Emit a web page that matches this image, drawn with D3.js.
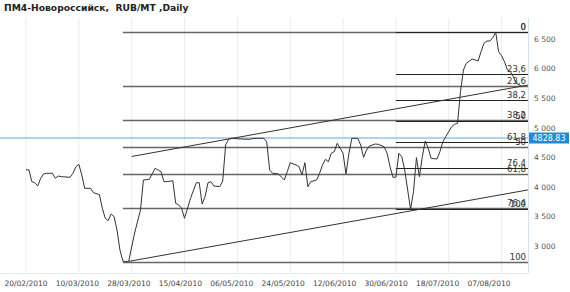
<!DOCTYPE html>
<html>
<head>
<meta charset="utf-8">
<script src="https://cdn.jsdelivr.net/npm/d3@7"></script>
<style>
  body { margin: 0; background: #fff; }
  svg { display: block; font-family: "DejaVu Sans", Verdana, sans-serif; }
</style>
</head>
<body>
<div id="chart"></div>
<script>
// chart data
const title = 'ПМ4-Новороссийск,  RUB/MT ,Daily';
const tickLabels = ['20/02/2010', '10/03/2010', '28/03/2010', '15/04/2010', '06/05/2010',
  '24/05/2010', '12/06/2010', '30/06/2010', '18/07/2010', '07/08/2010'];
const tickStep = 18; // points between date labels
const yTicks = [3000, 3500, 4000, 4500, 5000, 5500, 6000, 6500];

// price trace: day index / value
const priceIdx = [0, 1, 2, 3, 4, 5, 6, 7, 9, 10, 11, 12, 15, 16, 17, 18, 19, 20, 22, 23, 25, 26, 27, 28,
  29, 30, 31, 32, 33, 34, 35, 37, 39, 40, 42, 44, 45, 46, 47, 48, 50, 51, 52, 53, 54, 56, 58, 59,
  60, 61, 62, 63, 64, 66, 67, 68, 69, 70, 73, 76, 78, 81, 82, 83, 84, 86, 88, 89, 90, 92, 93, 94,
  95, 96, 97, 99, 100, 101, 102, 103, 104, 105, 106, 108, 109, 110, 111, 113, 114, 115, 116, 117,
  119, 120, 122, 123, 124, 125, 126, 127, 128, 129, 131, 132, 133, 134, 135, 136, 137, 138, 140,
  141, 142, 143, 144, 145, 146, 147, 148, 149, 150, 152, 153, 154, 155, 156, 157, 158, 159, 160,
  161, 162, 163, 164, 165, 166, 167, 168, 169];
const priceVal = [4290, 4290, 4090, 4072, 4016, 4147, 4220, 4231, 4231, 4147, 4186, 4174, 4164, 4231,
  4343, 4384, 4203, 3977, 3977, 3903, 3870, 3639, 3470, 3429, 3542, 3497, 3271, 2933, 2745, 2735,
  2745, 3221, 3610, 4118, 4130, 4316, 4287, 4258, 4089, 4089, 4106, 3723, 3695, 3639, 3470, 3800,
  4072, 4072, 3712, 3835, 4072, 4089, 4016, 4005, 4100, 4710, 4807, 4824, 4812, 4807, 4824, 4824,
  4766, 4287, 4231, 4220, 4118, 4258, 4411, 4372, 4343, 4203, 4411, 4005, 4089, 4118, 4231, 4372,
  4468, 4428, 4570, 4597, 4739, 4570, 4220, 4570, 4824, 4824, 4710, 4502, 4626, 4694, 4727, 4722,
  4682, 4570, 4343, 4164, 4164, 4570, 4512, 4287, 3620, 3920, 4496, 4174, 4512, 4778, 4655, 4485,
  4473, 4597, 4766, 4851, 4936, 5020, 5061, 5078, 5613, 5980, 6094, 6166, 6150, 6133, 6290, 6432,
  6471, 6471, 6527, 6618, 6290, 6222, 6121, 5980, 5951, 5867, 5755, 5726, 5698];
const lastPrice = 4828.83;

// Fibonacci retracements: two sets, drawn from start index to the right edge
const fibLevels = [0, 23.6, 38.2, 50, 61.8, 76.4, 100];
const fibStart = [33, 126];
const fibHigh = [6618, 6618];
const fibLow = [2735, 3620];

// parallel trend channel
const channelIdx = [[36, 171], [35, 171]];
const channelVal = [[4516, 5726], [2740, 3950]];

const width = 570, height = 292;
const plot = { left: 0, right: 528, top: 18, bottom: 273 };

const svg = d3.select('#chart').append('svg')
  .attr('width', width)
  .attr('height', height);

const x = d3.scaleLinear().domain([0, 171]).range([26, plot.right]);
// date labels drift slightly left of their grid lines in the original
const xLabel = d3.scaleLinear().domain([0, 162]).range([26, 489]);
const y = d3.scaleLinear().domain([2543, 6827]).range([plot.bottom, 20]);

const fmt = d3.formatLocale({ decimal: ',', thousands: ' ', grouping: [3], currency: ['', ''] }).format(',');

// vertical grid
const gridIdx = tickLabels.map((d, i) => i * tickStep);
svg.append('g').selectAll('line')
  .data(gridIdx)
  .join('line')
    .attr('x1', d => x(d)).attr('x2', d => x(d))
    .attr('y1', plot.top).attr('y2', plot.bottom)
    .attr('stroke', '#e6edf2')
    .attr('stroke-width', 1);

// frame right + bottom
svg.append('line')
  .attr('x1', plot.right + 0.5).attr('x2', plot.right + 0.5)
  .attr('y1', plot.top).attr('y2', plot.bottom)
  .attr('stroke', '#d6e2ea');
svg.append('line')
  .attr('x1', 0).attr('x2', plot.right)
  .attr('y1', plot.bottom + 0.5).attr('y2', plot.bottom + 0.5)
  .attr('stroke', '#e6edf2');

// x labels
svg.append('g').selectAll('text')
  .data(tickLabels)
  .join('text')
    .attr('x', (d, i) => xLabel(i * tickStep))
    .attr('y', 286)
    .attr('text-anchor', 'middle')
    .attr('font-size', '7.5px')
    .attr('fill', '#444')
    .text(d => d);

// y labels
svg.append('g').selectAll('text')
  .data(yTicks)
  .join('text')
    .attr('x', 534)
    .attr('y', d => y(d))
    .attr('dy', '0.35em')
    .attr('font-size', '7.5px')
    .attr('fill', '#555')
    .text(d => fmt(d));

// current price line
svg.append('line')
  .attr('x1', 0).attr('x2', plot.right)
  .attr('y1', y(lastPrice)).attr('y2', y(lastPrice))
  .attr('stroke', '#93c6e2')
  .attr('stroke-width', 1.5);

// fib lines
fibStart.forEach((start, s) => {
  const g = svg.append('g');
  const range = fibHigh[s] - fibLow[s];
  const levels = fibLevels.map(l => ({ l, v: fibHigh[s] - range * l / 100 }));
  g.selectAll('line')
    .data(levels)
    .join('line')
      .attr('x1', x(start)).attr('x2', plot.right)
      .attr('y1', d => Math.round(y(d.v)) + 0.5).attr('y2', d => Math.round(y(d.v)) + 0.5)
      .attr('stroke', s === 0 ? '#666' : '#222')
      .attr('stroke-width', s === 0 ? 1.6 : 1);
  g.selectAll('text')
    .data(levels)
    .join('text')
      .attr('x', 526)
      .attr('y', d => Math.round(y(d.v)) - 2)
      .attr('text-anchor', 'end')
      .attr('font-size', '8.5px')
      .attr('fill', '#333')
      .text(d => String(d.l).replace('.', ','));
});

// trend channel
svg.append('g').selectAll('line')
  .data(channelIdx.map((d, i) => ({ i: d, v: channelVal[i] })))
  .join('line')
    .attr('x1', d => x(d.i[0])).attr('x2', d => x(d.i[1]))
    .attr('y1', d => y(d.v[0])).attr('y2', d => y(d.v[1]))
    .attr('stroke', '#333')
    .attr('stroke-width', 1);

// price line
const line = d3.line()
  .x((d, i) => x(priceIdx[i]))
  .y(d => y(d));

svg.append('path')
  .datum(priceVal)
  .attr('d', line)
  .attr('fill', 'none')
  .attr('stroke', '#333')
  .attr('stroke-width', 1);

// last price badge
svg.append('rect')
  .attr('x', 529).attr('y', y(lastPrice) - 5.5)
  .attr('width', 40).attr('height', 11)
  .attr('fill', '#1e8bd3');
svg.append('text')
  .attr('x', 549).attr('y', y(lastPrice))
  .attr('dy', '0.35em')
  .attr('text-anchor', 'middle')
  .attr('font-size', '8px')
  .attr('fill', '#fff')
  .text(lastPrice.toFixed(2));

// title
svg.append('text')
  .attr('x', 4).attr('y', 11)
  .attr('font-size', '9.2px')
  .attr('font-weight', 'bold')
  .attr('fill', '#222')
  .attr('xml:space', 'preserve')
  .style('white-space', 'pre')
  .text(title);
</script>
</body>
</html>
